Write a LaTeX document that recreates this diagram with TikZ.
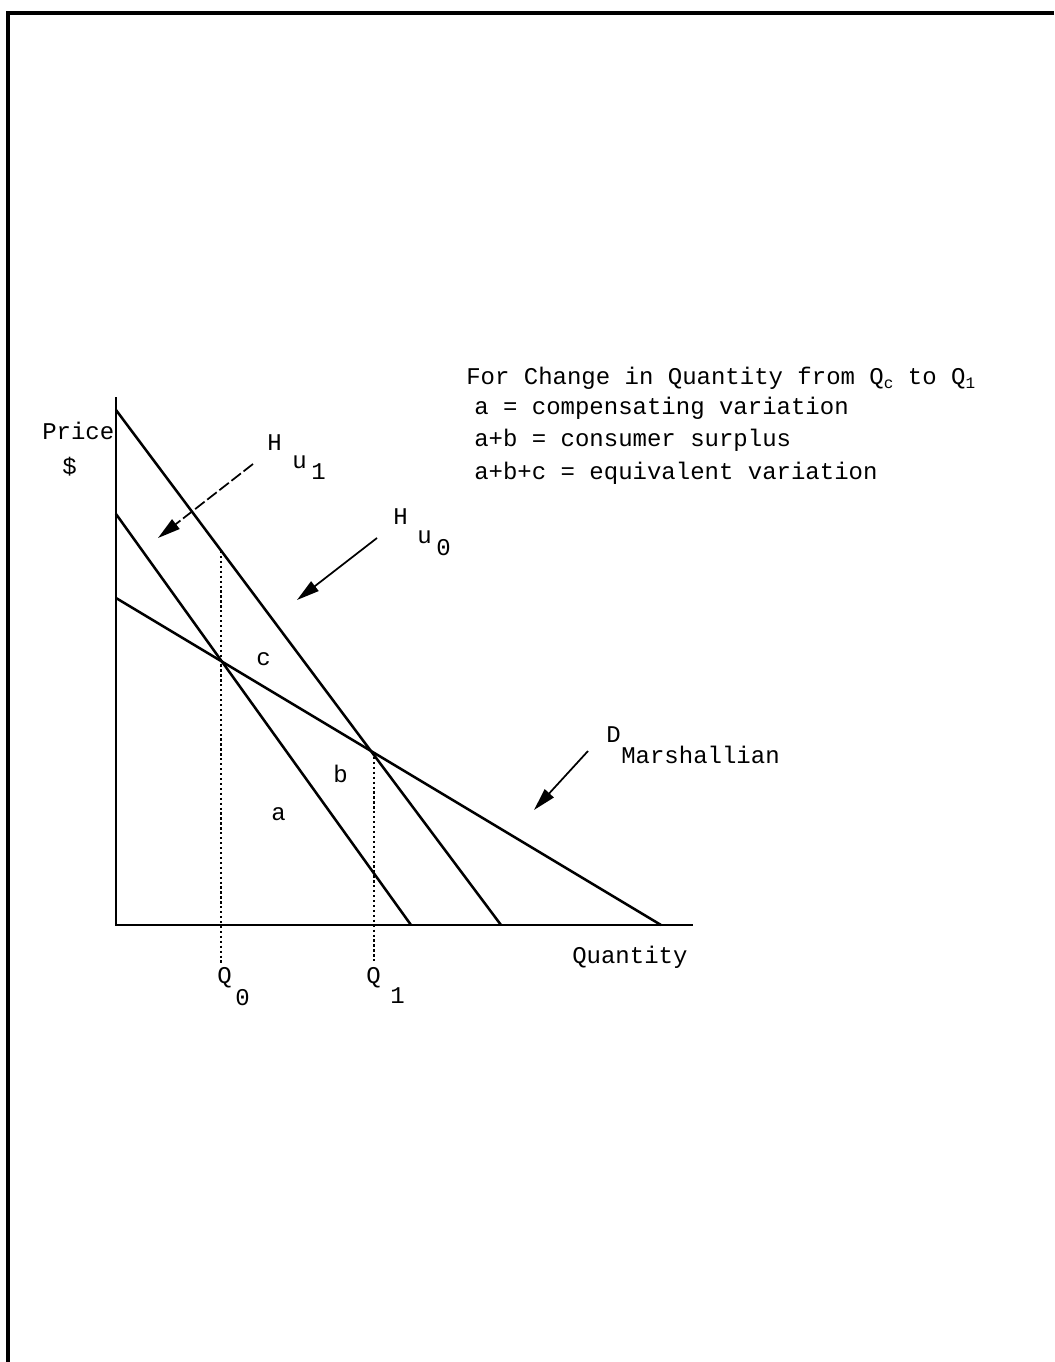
\documentclass[tikz,border=0pt]{standalone}
\usepackage{fontspec}
\setmonofont{Liberation Mono}
\usetikzlibrary{arrows.meta}
\begin{document}
\begin{tikzpicture}[x=0.75pt,y=-0.75pt,
  txt/.style={font=\ttfamily\fontsize{18pt}{22pt}\selectfont, inner sep=0pt, anchor=base west},
  frameline/.style={line width=3pt},
  curve/.style={line width=1.9pt},
  axis/.style={line width=2.2pt},
  guide/.style={line width=1.7pt, dotted},
  pointer/.style={line width=1.3pt, -{Triangle[length=17pt,width=9pt]}},
]
\useasboundingbox (0,0) rectangle (1054,1362);
% frame
\coordinate (fr) at (1054,13);
\coordinate (ftl) at (8,13);
\coordinate (fb) at (8,1362);
\draw[frameline] (fr) -- (ftl) -- (fb);
% axes
\coordinate (O) at (116,925);
\coordinate (ytop) at (116,397);
\coordinate (xend) at (693,925);
\draw[axis] (ytop) -- (O) -- (xend);
% demand curves
\coordinate (h0a) at (116,410);
\coordinate (h0b) at (501,925);
\coordinate (h1a) at (116,514);
\coordinate (h1b) at (411,925);
\coordinate (dma) at (116,598);
\coordinate (dmb) at (661,925);
\draw[curve] (h0a) -- (h0b);
\draw[curve] (h1a) -- (h1b);
\draw[curve] (dma) -- (dmb);
% dotted guides
\coordinate (q0t) at (221,551);
\coordinate (q0b) at (221,965);
\coordinate (q1t) at (374,752);
\coordinate (q1b) at (374,962);
\draw[guide] (q0t) -- (q0b);
\draw[guide] (q1t) -- (q1b);
% axis labels
\node[txt] (price) at (42,439) {Price};
\node[txt] (dollar) at (62,474) {\$};
\node[txt] (quant) at (572,963) {Quantity};
\node[txt] (q0Q) at (217,983) {Q};
\node[txt] (q0s) at (235,1005) {0};
\node[txt] (q1Q) at (366,983) {Q};
\node[txt] (q1s) at (390,1003) {1};
% area labels
\node[txt] (la) at (271,820) {a};
\node[txt] (lb) at (333,782) {b};
\node[txt] (lc) at (256,665) {c};
% curve labels
\node[txt] (H1) at (267,450) {H};
\node[txt] (u1) at (292,468) {u};
\node[txt] (s1) at (311,479) {1};
\node[txt] (H0) at (393,524) {H};
\node[txt] (u0) at (417,543) {u};
\node[txt] (s0) at (436,555) {0};
\node[txt] (Dl) at (606,742) {D};
\node[txt] (Ml) at (621,763) {Marshallian};
% pointers
\coordinate (p1s) at (253,464);
\coordinate (p1e) at (158,538);
\coordinate (p0s) at (377,538);
\coordinate (p0e) at (297,600);
\coordinate (pds) at (588,751);
\coordinate (pde) at (534,810);
\draw[pointer, dash pattern=on 9pt off 2.5pt] (p1s) -- (p1e);
\draw[pointer] (p0s) -- (p0e);
\draw[pointer] (pds) -- (pde);
% legend
\node[txt] (leg1) at (466,384) {For Change in Quantity from Q\raisebox{-0.35ex}{\fontsize{12pt}{12pt}\selectfont c} to Q\raisebox{-0.35ex}{\fontsize{12pt}{12pt}\selectfont 1}};
\node[txt] (leg2) at (474,414) {a = compensating variation};
\node[txt] (leg3) at (474,446) {a+b = consumer surplus};
\node[txt] (leg4) at (474,479) {a+b+c = equivalent variation};
\end{tikzpicture}
\end{document}
